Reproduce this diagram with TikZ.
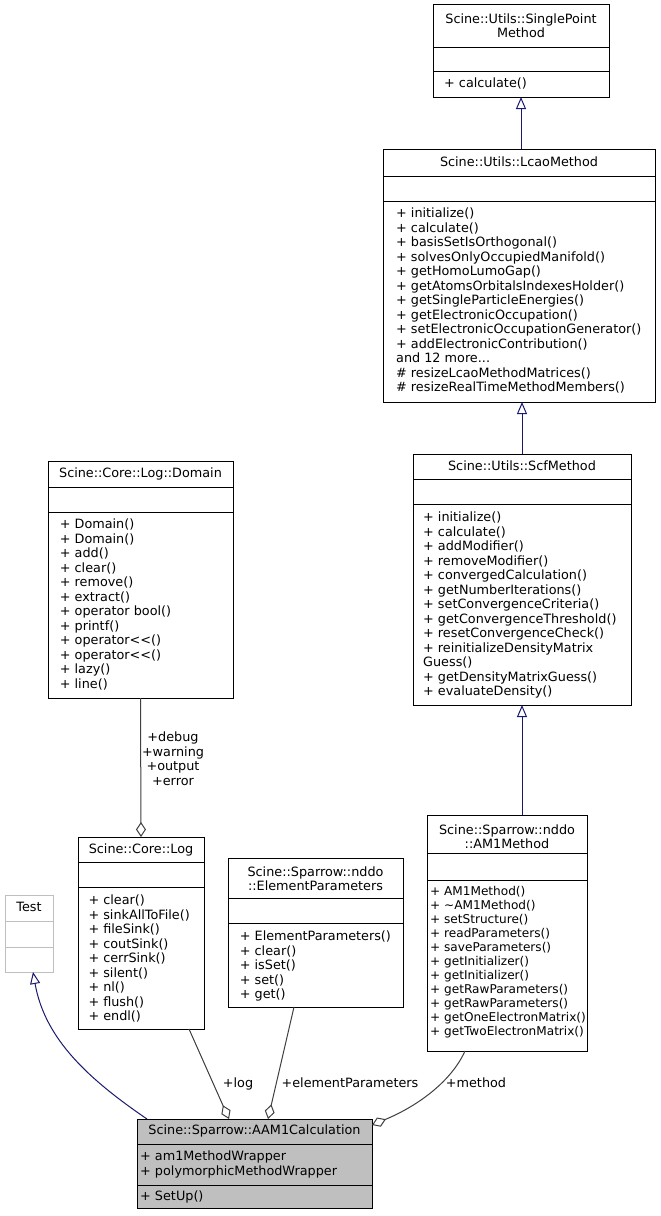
\documentclass[tikz,border=0pt]{standalone}
\usepackage{fontspec}
\setmainfont{DejaVu Sans}
\usetikzlibrary{arrows.meta}
\definecolor{inh}{HTML}{191970}
\definecolor{agg}{HTML}{404040}
\definecolor{hl}{HTML}{BFBFBF}
\newcommand\fst{\rule{0pt}{10pt}}
\tikzset{
  classbox/.style={draw=black, line width=1pt, fill=white, inner sep=0pt, outer sep=0pt},
  ttl/.style={anchor=north, inner sep=0pt, align=center, font=\fontsize{12.8}{13.5}\selectfont},
  mem/.style={anchor=north west, inner sep=0pt, align=left, font=\fontsize{12.8}{14.5}\selectfont},
  memtight/.style={mem, font=\fontsize{12.1}{14}\selectfont},
  lbl/.style={anchor=north, inner sep=0pt, align=center, font=\fontsize{12.8}{14.5}\selectfont},
  inherit/.style={draw=inh, line width=1pt, -{Triangle[open,length=12pt,width=10pt]}},
  aggr/.style={draw=agg, line width=1pt, -{Diamond[open,length=15pt,width=10pt]}},
}
% #1 style, #2 name, #3 x1, #4 x2, #5 top, #6 sep1, #7 sep2, #8 bottom
\newcommand\umlbox[8][]{%
  \node[classbox,#1, minimum width={#4pt-#3pt}, minimum height={#8pt-#5pt}]
    (#2) at ({(#3+#4)/2},{-(#5+#8)/2}) {};
  \draw[line width=1pt,#1] (#2.west |- 0,-#6) -- (#2.east |- 0,-#6);
  \draw[line width=1pt,#1] (#2.west |- 0,-#7) -- (#2.east |- 0,-#7);
}
\begin{document}
\begin{tikzpicture}[x=1pt,y=1pt]
\useasboundingbox (0,0) rectangle (661,-1216);
\fill[white] (0,0) rectangle (661,-1216);

% SinglePointMethod
\umlbox{spm}{433}{609}{4}{47}{71}{97}
\node[ttl] (spm-t) at (521,-13.6) {\fst Scine::Utils::SinglePoint\\Method};
\node[mem] (spm-m) at (444,-77.6) {\fst + calculate()};

% LcaoMethod
\umlbox{lcao}{383}{655}{149}{176}{201}{402}
\node[ttl] (lcao-t) at (519,-156.6) {\fst Scine::Utils::LcaoMethod};
\node[mem] (lcao-m) at (396,-207.6) {\fst + initialize()\\+ calculate()\\+ basisSetIsOrthogonal()\\+ solvesOnlyOccupiedManifold()\\+ getHomoLumoGap()\\+ getAtomsOrbitalsIndexesHolder()\\+ getSingleParticleEnergies()\\+ getElectronicOccupation()\\+ setElectronicOccupationGenerator()\\+ addElectronicContribution()\\and 12 more...\\\# resizeLcaoMethodMatrices()\\\# resizeRealTimeMethodMembers()};

% ScfMethod
\umlbox{scf}{413}{631}{454}{479}{504}{705}
\node[ttl] (scf-t) at (522,-460.6) {\fst Scine::Utils::ScfMethod};
\node[mem] (scf-m) at (423,-511.6) {\fst + initialize()\\+ calculate()\\+ addModifier()\\+ removeModifier()\\+ convergedCalculation()\\+ getNumberIterations()\\+ setConvergenceCriteria()\\+ getConvergenceThreshold()\\+ resetConvergenceCheck()\\+ reinitializeDensityMatrix\\Guess()\\+ getDensityMatrixGuess()\\+ evaluateDensity()};

% Log::Domain
\umlbox{domain}{48}{233}{461}{487}{512}{698}
\node[ttl] (domain-t) at (140.5,-467.6) {\fst Scine::Core::Log::Domain};
\node[mem] (domain-m) at (59.7,-518.6) {\fst + Domain()\\+ Domain()\\+ add()\\+ clear()\\+ remove()\\+ extract()\\+ operator bool()\\+ printf()\\+ operator<{}<()\\+ operator<{}<()\\+ lazy()\\+ line()};

% Log
\umlbox{log}{78}{204}{837}{862}{887}{1029}
\node[ttl] (log-t) at (141,-843.6) {\fst Scine::Core::Log};
\node[mem] (log-m) at (88.3,-894.6) {\fst + clear()\\+ sinkAllToFile()\\+ fileSink()\\+ coutSink()\\+ cerrSink()\\+ silent()\\+ nl()\\+ flush()\\+ endl()};

% Test
\umlbox[draw=hl]{test}{5}{53}{895}{921}{947}{972}
\node[ttl] (test-t) at (29,-901.6) {\fst Test};

% ElementParameters
\umlbox{ep}{228}{403}{858}{898}{923}{1007}
\node[ttl] (ep-t) at (315.5,-866.6) {\fst Scine::Sparrow::nddo\\::ElementParameters};
\node[mem] (ep-m) at (239.7,-930.6) {\fst + ElementParameters()\\+ clear()\\+ isSet()\\+ set()\\+ get()};

% AM1Method
\umlbox{am1}{427}{587}{815}{853}{880}{1051}
\node[ttl] (am1-t) at (507,-824.6) {\fst Scine::Sparrow::nddo\\::AM1Method};
\node[memtight] (am1-m) at (430,-885.6) {\fst + AM1Method()\\+ \textasciitilde AM1Method()\\+ setStructure()\\+ readParameters()\\+ saveParameters()\\+ getInitializer()\\+ getInitializer()\\+ getRawParameters()\\+ getRawParameters()\\+ getOneElectronMatrix()\\+ getTwoElectronMatrix()};

% AAM1Calculation
\umlbox[fill=hl]{aam1}{137}{372}{1119}{1144}{1185}{1208}
\node[ttl] (aam1-t) at (254.5,-1124.6) {\fst Scine::Sparrow::AAM1Calculation};
\node[mem] (aam1-a) at (140,-1150.6) {\fst + am1MethodWrapper\\+ polymorphicMethodWrapper};
\node[mem] (aam1-m) at (140,-1190.6) {\fst + SetUp()};

% inheritance
\draw[inherit] (spm.south |- lcao.north) -- (spm.south);
\draw[inherit] (scf.north) -- (scf.north |- lcao.south);
\draw[inherit] (scf.south |- am1.north) -- (scf.south);
\draw[inherit] ([xshift=-107.5pt]aam1.north) .. controls (90,-1080) and (45,-1040) .. ([xshift=4pt]test.south);

% aggregation
\draw[aggr] (domain.south) -- (log.north);
\draw[aggr] ([xshift=48pt]log.south) -- ([xshift=-25.5pt]aam1.north);
\draw[aggr] ([xshift=-21.5pt]ep.south) -- ([xshift=13.5pt]aam1.north);
\draw[aggr] ([xshift=-42pt]am1.south) .. controls (452,-1080) and (420,-1105) .. ([yshift=38.5pt]aam1.east);

% labels
\node[lbl] (dlbl) at (173,-731.6) {\fst +debug\\+warning\\+output\\+error};
\node[lbl] (loglbl) at (238,-1077.6) {\fst +log};
\node[lbl] (eplbl) at (350,-1077.6) {\fst +elementParameters};
\node[lbl] (mlbl) at (476,-1077.6) {\fst +method};
\end{tikzpicture}
\end{document}
